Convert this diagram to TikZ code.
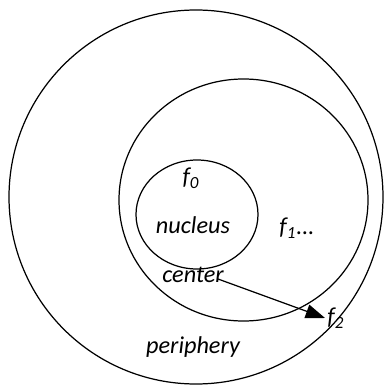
\documentclass[tikz,border=0pt]{standalone}
\usepackage{fontspec}
\setmainfont{Carlito}
\usetikzlibrary{arrows.meta}

\begin{document}
\begin{tikzpicture}[x=0.02cm,y=-0.02cm,line width=0.7pt,
    lbl/.style={font=\itshape\fontsize{13.8}{16}\selectfont,inner sep=1pt}]
      \useasboundingbox (0,0) rectangle (384,385);
      % rings
      \draw (196,197) ellipse (187 and 187);
      \draw (243.5,200) ellipse (124.5 and 121);
      \draw (197,214.5) ellipse (61 and 54.5);
      % labels
      \node[lbl] (f0) at (191,178) {f\textsubscript{0}};
      \node[lbl] (nucleus) at (193,225) {nucleus};
      \node[lbl] (f1) at (297,228) {f\textsubscript{1}...};
      \node[lbl] (center) at (193,275) {center};
      \node[lbl,anchor=west] (f2) at (325,318) {f\textsubscript{2}};
      \node[lbl] (periphery) at (193,347) {periphery};
      \coordinate (arrstart) at (218,279);
      \draw[-{Triangle[length=11pt,width=8pt]}] (arrstart) -- (f2.west);
    \end{tikzpicture}
\end{document}
